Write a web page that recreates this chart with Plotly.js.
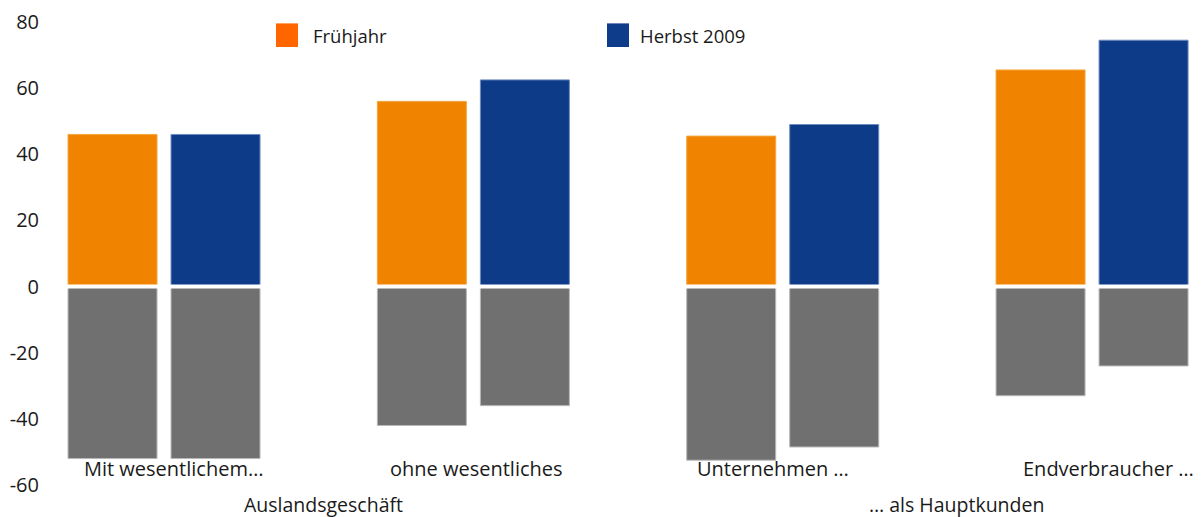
<!DOCTYPE html>
<html>
<head>
<meta charset="utf-8">
<script src="https://cdn.plot.ly/plotly-3.0.1.min.js"></script>
<style>html,body{margin:0;padding:0;background:#fff;}#chart{width:1201px;height:517px;}</style>
</head>
<body>
<div id="chart"></div>
<script>
var categories = ["Mit wesentlichem…", "ohne wesentliches", "Unternehmen …", "Endverbraucher …"];
var groupLabels = ["Auslandsgeschäft", "… als Hauptkunden"];
var seriesNames = ["Frühjahr", "Herbst 2009"];
var springPositive = [46, 56, 45.5, 65.5];
var autumnPositive = [46, 62.5, 49, 74.5];
var springNegative = [-52, -42, -52.5, -33];
var autumnNegative = [-52, -36, -48.5, -24];
var yTicks = [-60, -40, -20, 0, 20, 40, 60, 80];

var FONT = "Open Sans, DejaVu Sans, sans-serif";
var TEXT = "#1a1a1a";
var ORANGE = "#F08400", BLUE = "#0E3B87", GREY = "#707070";

function bar(y, color, edge, group, name) {
  return {type: "bar", x: categories, y: y, name: name, offsetgroup: group,
    marker: {color: color, line: {color: edge, width: 1}}, showlegend: false, hoverinfo: "y"};
}
var data = [
  bar(springPositive, ORANGE, "#F5A640", "a", seriesNames[0]),
  bar(autumnPositive, BLUE, "#6F8CC0", "b", seriesNames[1]),
  bar(springNegative, GREY, "#B8B8B8", "a", seriesNames[0]),
  bar(autumnNegative, GREY, "#B8B8B8", "b", seriesNames[1])
];

var annotations = [];
var catShift = [10, 3, -10, 16];
categories.forEach(function (c, i) {
  annotations.push({x: c, y: 0.035, xref: "x", yref: "paper", text: c, showarrow: false,
    xanchor: "center", yanchor: "middle", xshift: catShift[i], font: {family: FONT, size: 20, color: TEXT}});
});
var groupPos = [0.5, 2.5];
var groupShift = [5, 19];
groupLabels.forEach(function (g, i) {
  annotations.push({x: groupPos[i], y: -0.043, xref: "x", yref: "paper", text: g, showarrow: false,
    xanchor: "center", yanchor: "middle", xshift: groupShift[i], font: {family: FONT, size: 19.5, color: TEXT}});
});
var legendX = [0.2318, 0.5156];
seriesNames.forEach(function (n, i) {
  annotations.push({x: legendX[i], y: 0.970, xref: "paper", yref: "paper", text: n, showarrow: false,
    xanchor: "left", yanchor: "middle", font: {family: FONT, size: 18.5, color: TEXT}});
});

var shapes = [
  {type: "rect", xref: "paper", yref: "paper", x0: 0.2014, x1: 0.2205, y0: 0.946, y1: 0.997, fillcolor: "#FF6600", line: {width: 0}},
  {type: "rect", xref: "paper", yref: "paper", x0: 0.4887, x1: 0.5078, y0: 0.946, y1: 0.997, fillcolor: "#0E3B8A", line: {width: 0}},
  {type: "line", xref: "paper", yref: "y", x0: 0, x1: 1, y0: 0, y1: 0, layer: "above", line: {color: "#ffffff", width: 4}}
];

var layout = {
  width: 1201, height: 517,
  margin: {l: 44, r: 5, t: 22, b: 32},
  paper_bgcolor: "#ffffff", plot_bgcolor: "#ffffff",
  barmode: "group", bargap: 0.334, bargroupgap: 0.136,
  showlegend: false,
  font: {family: FONT, size: 18, color: TEXT},
  xaxis: {type: "category", range: [-0.388, 3.336], showticklabels: false, showgrid: false,
    zeroline: false, showline: false, ticks: ""},
  yaxis: {range: [-60, 80], tickvals: yTicks, ticktext: yTicks.map(String), showgrid: false,
    zeroline: false, showline: false, ticks: "", ticklabelstandoff: 4, tickfont: {family: FONT, size: 20, color: TEXT}},
  annotations: annotations,
  shapes: shapes
};

Plotly.newPlot("chart", data, layout, {displayModeBar: false, staticPlot: true});
</script>
</body>
</html>
